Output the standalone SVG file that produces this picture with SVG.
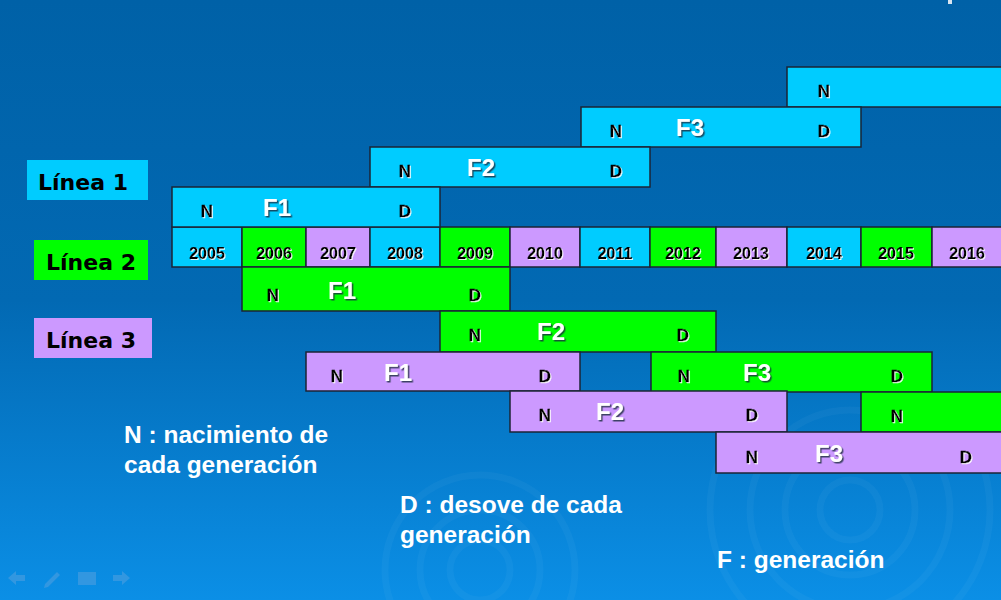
<svg xmlns="http://www.w3.org/2000/svg" width="1001" height="600" viewBox="0 0 1001 600">
<defs>
<linearGradient id="bg" x1="0" y1="0" x2="0" y2="1">
<stop offset="0" stop-color="#0061a7"/>
<stop offset="0.5" stop-color="#0269b3"/>
<stop offset="1" stop-color="#0b8fe6"/>
</linearGradient>
<filter id="shW" x="-20%" y="-20%" width="140%" height="140%">
<feDropShadow dx="1" dy="1" stdDeviation="0.3" flood-color="#ffffff" flood-opacity="0.9"/>
</filter>
<filter id="shD" x="-20%" y="-20%" width="140%" height="140%">
<feDropShadow dx="1.5" dy="1.5" stdDeviation="0.4" flood-color="#1a2a40" flood-opacity="0.8"/>
</filter>
</defs>
<style>
.bar{stroke:#1b2436;stroke-width:1.5}
.c{fill:#00ccff}
.g{fill:#00ff00}
.p{fill:#cc99ff}
.nd{font-family:"Liberation Sans",Arial,sans-serif;font-weight:bold;font-size:17px;fill:#000;text-anchor:middle;filter:url(#shW);stroke:#000;stroke-width:0.3}
.yr{font-family:"Liberation Sans",Arial,sans-serif;font-weight:bold;font-size:16px;fill:#000;text-anchor:middle;filter:url(#shW);stroke:#000;stroke-width:0.2}
.f{font-family:"Liberation Sans",Arial,sans-serif;font-weight:bold;font-size:24px;fill:#fff;text-anchor:middle;filter:url(#shD)}
.lin{font-family:"DejaVu Sans",Verdana,sans-serif;font-weight:bold;font-size:22px;fill:#000}
.leg{font-family:"Liberation Sans",Arial,sans-serif;font-weight:bold;font-size:24.5px;fill:#fff}
.rip{fill:none;stroke:#ffffff;stroke-opacity:0.035;stroke-width:7}
.nav{fill:#4c9ee0;opacity:0.6}
</style>
<rect x="0" y="0" width="1001" height="600" fill="url(#bg)"/>
<g id="ripples">
<circle class="rip" cx="480" cy="570" r="30"/>
<circle class="rip" cx="480" cy="570" r="60"/>
<circle class="rip" cx="480" cy="570" r="95"/>
<circle class="rip" cx="850" cy="510" r="30"/>
<circle class="rip" cx="850" cy="510" r="65"/>
<circle class="rip" cx="850" cy="510" r="100"/>
<circle class="rip" cx="850" cy="510" r="140"/>
</g>
<rect x="948" y="0" width="4" height="4" fill="#d8e4f0"/>

<g id="nav-icons">
<polygon class="nav" points="8,578 16,571 16,575 25,575 25,581 16,581 16,585"/>
<polygon class="nav" points="45,584 57,572 60,575 48,587 44,588"/>
<rect class="nav" x="78" y="572" width="18" height="13"/>
<polygon class="nav" points="130,578 122,571 122,575 113,575 113,581 122,581 122,585"/>
</g>

<g id="linea1-label">
<rect x="27" y="160" width="121" height="40" fill="#00ccff"/>
<text class="lin" x="38" y="190">Línea 1</text>
</g>
<g id="linea2-label">
<rect x="34" y="240" width="114" height="40" fill="#00ff00"/>
<text class="lin" x="46" y="270">Línea 2</text>
</g>
<g id="linea3-label">
<rect x="34" y="318" width="118" height="40" fill="#cc99ff"/>
<text class="lin" x="46" y="348">Línea 3</text>
</g>

<g id="years">
<rect class="bar c" x="172" y="227" width="70" height="40"/><text class="yr" x="207" y="259">2005</text>
<rect class="bar g" x="242" y="227" width="64" height="40"/><text class="yr" x="274" y="259">2006</text>
<rect class="bar p" x="306" y="227" width="64" height="40"/><text class="yr" x="338" y="259">2007</text>
<rect class="bar c" x="370" y="227" width="70" height="40"/><text class="yr" x="405" y="259">2008</text>
<rect class="bar g" x="440" y="227" width="70" height="40"/><text class="yr" x="475" y="259">2009</text>
<rect class="bar p" x="510" y="227" width="70" height="40"/><text class="yr" x="545" y="259">2010</text>
<rect class="bar c" x="580" y="227" width="70" height="40"/><text class="yr" x="615" y="259">2011</text>
<rect class="bar g" x="650" y="227" width="66" height="40"/><text class="yr" x="683" y="259">2012</text>
<rect class="bar p" x="716" y="227" width="71" height="40"/><text class="yr" x="751" y="259">2013</text>
<rect class="bar c" x="787" y="227" width="74" height="40"/><text class="yr" x="824" y="259">2014</text>
<rect class="bar g" x="861" y="227" width="71" height="40"/><text class="yr" x="896" y="259">2015</text>
<rect class="bar p" x="932" y="227" width="75" height="40"/><text class="yr" x="967" y="259">2016</text>
</g>

<!-- Línea 1 -->
<g id="l1-f4">
<rect class="bar c" x="787" y="67" width="220" height="40"/>
<text class="nd" x="824" y="97">N</text>
</g>
<g id="l1-f3">
<rect class="bar c" x="581" y="107" width="280" height="40"/>
<text class="nd" x="616" y="137">N</text>
<text class="f" x="690" y="136">F3</text>
<text class="nd" x="824" y="137">D</text>
</g>
<g id="l1-f2">
<rect class="bar c" x="370" y="147" width="280" height="40"/>
<text class="nd" x="405" y="177">N</text>
<text class="f" x="481" y="176">F2</text>
<text class="nd" x="616" y="177">D</text>
</g>
<g id="l1-f1">
<rect class="bar c" x="172" y="187" width="268" height="40"/>
<text class="nd" x="207" y="217">N</text>
<text class="f" x="277" y="216">F1</text>
<text class="nd" x="405" y="217">D</text>
</g>

<!-- Línea 2 -->
<g id="l2-f1">
<rect class="bar g" x="242" y="267" width="268" height="44"/>
<text class="nd" x="273" y="301">N</text>
<text class="f" x="342" y="299">F1</text>
<text class="nd" x="475" y="301">D</text>
</g>
<g id="l2-f2">
<rect class="bar g" x="440" y="311" width="276" height="41"/>
<text class="nd" x="475" y="341">N</text>
<text class="f" x="551" y="340">F2</text>
<text class="nd" x="683" y="341">D</text>
</g>
<g id="l2-f3">
<rect class="bar g" x="651" y="352" width="281" height="40"/>
<text class="nd" x="684" y="382">N</text>
<text class="f" x="757" y="381">F3</text>
<text class="nd" x="897" y="382">D</text>
</g>
<g id="l2-f4">
<rect class="bar g" x="861" y="392" width="146" height="40"/>
<text class="nd" x="897" y="422">N</text>
</g>

<!-- Línea 3 -->
<g id="l3-f1">
<rect class="bar p" x="306" y="352" width="274" height="39"/>
<text class="nd" x="337" y="382">N</text>
<text class="f" x="398" y="381">F1</text>
<text class="nd" x="545" y="382">D</text>
</g>
<g id="l3-f2">
<rect class="bar p" x="510" y="391" width="277" height="41"/>
<text class="nd" x="545" y="421">N</text>
<text class="f" x="610" y="420">F2</text>
<text class="nd" x="752" y="421">D</text>
</g>
<g id="l3-f3">
<rect class="bar p" x="716" y="432" width="291" height="41"/>
<text class="nd" x="752" y="463">N</text>
<text class="f" x="829" y="462">F3</text>
<text class="nd" x="966" y="463">D</text>
</g>

<g id="legend">
<text class="leg" x="124" y="443">N : nacimiento de</text>
<text class="leg" x="124" y="473">cada generación</text>
<text class="leg" x="400" y="513">D : desove de cada</text>
<text class="leg" x="400" y="543">generación</text>
<text class="leg" x="717" y="568">F : generación</text>
</g>
</svg>
